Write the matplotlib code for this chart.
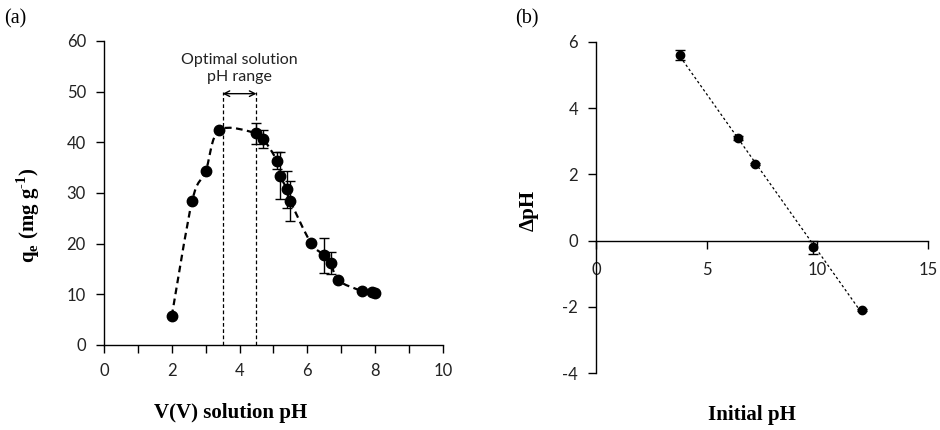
import numpy as np
import matplotlib
matplotlib.use('Agg')
import matplotlib.pyplot as plt
from matplotlib.path import Path
from matplotlib.patches import PathPatch

# Panel (a): adsorption capacity vs solution pH
ph_a = [2.0, 2.6, 3.0, 3.4, 4.5, 4.7, 5.1, 5.2, 5.4, 5.5, 6.1, 6.5, 6.7, 6.9, 7.6, 7.9, 8.0]
qe = [5.7, 28.4, 34.3, 42.4, 41.8, 40.7, 36.4, 33.4, 30.7, 28.4, 20.2, 17.7, 16.2, 12.8, 10.7, 10.5, 10.2]
qe_err = [0, 0, 0, 0, 2.1, 1.8, 1.7, 4.6, 3.7, 3.9, 0, 3.5, 2.2, 0, 0, 0, 0]
opt_range = [3.5, 4.5]

# Panel (b): pH drift
ph_init = [3.8, 6.4, 7.2, 9.8, 12.0]
dph = [5.6, 3.1, 2.3, -0.2, -2.1]
dph_err = [0.15, 0.05, 0.03, 0.2, 0.03]

tick_font = 'Lato'
serif = 'Liberation Serif'
plt.rcParams['mathtext.fontset'] = 'custom'
plt.rcParams['mathtext.rm'] = 'Liberation Serif:bold'
plt.rcParams['axes.linewidth'] = 1.0
plt.rcParams['axes.unicode_minus'] = False

fig = plt.figure(figsize=(9.4, 4.3), dpi=100)
ax1 = fig.add_axes([0.1106, 0.1977, 0.3606, 0.707])
ax2 = fig.add_axes([0.634, 0.1319, 0.3535, 0.771])


def smooth_path(x, y):
    # Excel-style smoothed line: cubic Bezier segments through every point
    x = np.asarray(x, float)
    y = np.asarray(y, float)
    n = len(x)
    verts = [(x[0], y[0])]
    codes = [Path.MOVETO]
    for i in range(n - 1):
        i0 = max(i - 1, 0)
        i3 = min(i + 2, n - 1)
        c1 = (x[i] + (x[i + 1] - x[i0]) / 6, y[i] + (y[i + 1] - y[i0]) / 6)
        c2 = (x[i + 1] - (x[i3] - x[i]) / 6, y[i + 1] - (y[i3] - y[i]) / 6)
        verts += [c1, c2, (x[i + 1], y[i + 1])]
        codes += [Path.CURVE4] * 3
    return Path(verts, codes)


# ---- panel (a)
ax1.add_patch(PathPatch(smooth_path(ph_a, qe), fill=False, lw=1.6,
                        ls=(0, (3, 2)), color='black', zorder=2))
ax1.errorbar(ph_a, qe, yerr=qe_err, fmt='o', color='black', ms=7.5,
             ecolor='black', elinewidth=1.0, capsize=3.5, capthick=1.0, zorder=3)
for xv in opt_range:
    ax1.plot([xv, xv], [0, 50], color='black', lw=0.9, ls=(0, (3, 2)), zorder=1)
ax1.annotate('', xy=(opt_range[0], 49.6), xytext=(opt_range[1], 49.6),
             arrowprops=dict(arrowstyle='<->', color='black', lw=1.0,
                             shrinkA=0, shrinkB=0))
ax1.text(np.mean(opt_range), 51.5, 'Optimal solution\npH range', ha='center',
         va='bottom', fontsize=11.5, family=tick_font, color='#222222',
         linespacing=1.3)

ax1.set_xlim(0, 10)
ax1.set_ylim(0, 60)
ax1.set_xticks(range(0, 11))
ax1.set_xticklabels([str(v) if v % 2 == 0 else '' for v in range(0, 11)])
ax1.set_yticks(range(0, 61, 10))
ax1.spines['top'].set_visible(False)
ax1.spines['right'].set_visible(False)
ax1.tick_params(direction='out', length=6, width=1.0, labelsize=12, pad=7,
                labelcolor='#222222')
for lab in ax1.get_xticklabels() + ax1.get_yticklabels():
    lab.set_family(tick_font)

fig.text(0.245, 0.04, 'V(V) solution pH', ha='center', va='center',
         fontsize=15, family=serif, weight='bold')
fig.text(0.03, 0.50, r'q$_\mathrm{e}$ (mg g$^{\text{-1}}$)', ha='center', va='center',
         rotation=90, fontsize=15, family=serif, weight='bold')
fig.text(0.004, 0.955, '(a)', ha='left', va='center', fontsize=14.5, family=serif)

# ---- panel (b)
coef = np.polyfit(ph_init, dph, 1)
xfit = np.array([min(ph_init), max(ph_init)])
ax2.plot(xfit, np.polyval(coef, xfit), color='black', lw=0.9, ls=(0, (2, 2)), zorder=2)
ax2.errorbar(ph_init, dph, yerr=dph_err, fmt='o', color='black', ms=6,
             ecolor='black', elinewidth=1.0, capsize=3.5, capthick=1.0, zorder=3)

ax2.set_xlim(0, 15)
ax2.set_ylim(-4, 6)
ax2.set_xticks([0, 5, 10, 15])
ax2.set_yticks(range(-4, 7, 2))
ax2.spines['top'].set_visible(False)
ax2.spines['right'].set_visible(False)
ax2.spines['bottom'].set_position(('data', 0))
ax2.tick_params(direction='out', length=6, width=1.0, labelsize=12, pad=7,
                labelcolor='#222222')
ax2.tick_params(axis='x', pad=9)
for lab in ax2.get_xticklabels() + ax2.get_yticklabels():
    lab.set_family(tick_font)

fig.text(0.80, 0.035, 'Initial pH', ha='center', va='center',
         fontsize=15, family=serif, weight='bold')
fig.text(0.563, 0.51, 'ΔpH', ha='center', va='center', rotation=90,
         fontsize=15, family=serif, weight='bold')
fig.text(0.548, 0.955, '(b)', ha='left', va='center', fontsize=14.5, family=serif)

fig.savefig('out.png', dpi=100)
